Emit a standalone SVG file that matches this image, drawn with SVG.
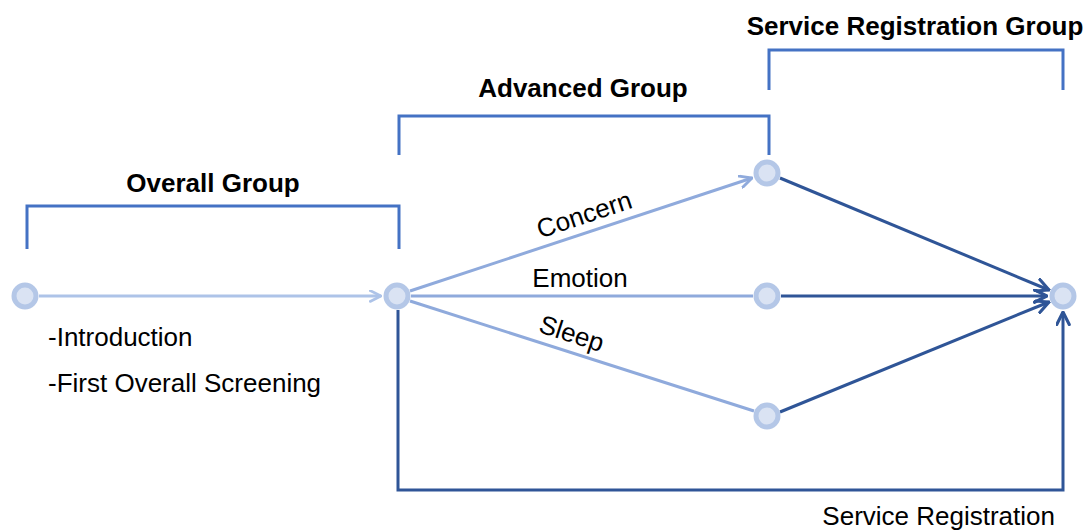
<svg xmlns="http://www.w3.org/2000/svg" width="1087" height="530" viewBox="0 0 1087 530">
<style>
.title{font-family:"Liberation Sans",Arial,sans-serif;font-weight:bold;font-size:26px;fill:#000}
.lbl{font-family:"Liberation Sans",Arial,sans-serif;font-size:26px;fill:#000}
.br{fill:none;stroke:#4472c4;stroke-width:3}
.ring{fill:#dae3f3;stroke:#b4c7e7;stroke-width:5}
.light{fill:none;stroke:#8faadc;stroke-width:3}
.lighter{fill:none;stroke:#adc3e8;stroke-width:3}
.dark{fill:none;stroke:#2f5597;stroke-width:3}
</style>
<defs>
<marker id="aL" viewBox="0 0 12 12" refX="11" refY="6" markerWidth="14" markerHeight="14" markerUnits="userSpaceOnUse" orient="auto"><path d="M1,1 L11,6 L1,11" fill="none" stroke="#8faadc" stroke-width="2.5" stroke-linecap="round"/></marker>
<marker id="aLL" viewBox="0 0 12 12" refX="11" refY="6" markerWidth="13" markerHeight="13" markerUnits="userSpaceOnUse" orient="auto"><path d="M1,1 L11,6 L1,11" fill="none" stroke="#adc3e8" stroke-width="2.5" stroke-linecap="round"/></marker>
<marker id="aD" viewBox="0 0 12 12" refX="11" refY="6" markerWidth="15" markerHeight="15" markerUnits="userSpaceOnUse" orient="auto"><path d="M1,1 L11,6 L1,11" fill="none" stroke="#2f5597" stroke-width="2.5" stroke-linecap="round"/></marker>
</defs>
<g id="brackets">
<path class="br" d="M27,249 V206 H399 V249"/>
<path class="br" d="M399,155 V116 H769 V155"/>
<path class="br" d="M769,90 V50 H1063 V90"/>
</g>
<g id="titles">
<text class="title" x="213" y="192" text-anchor="middle">Overall Group</text>
<text class="title" x="583" y="97" text-anchor="middle">Advanced Group</text>
<text class="title" x="915" y="35" text-anchor="middle">Service Registration Group</text>
</g>
<g id="connectors">
<line class="lighter" x1="39" y1="296" x2="381" y2="296" marker-end="url(#aLL)"/>
<line class="light" x1="410" y1="291" x2="752" y2="178" marker-end="url(#aL)"/>
<line class="light" x1="411" y1="296" x2="753" y2="296"/>
<line class="light" x1="410" y1="301" x2="754" y2="411"/>
<line class="dark" x1="780" y1="178" x2="1049" y2="290" marker-end="url(#aD)"/>
<line class="dark" x1="781" y1="296" x2="1047" y2="296" marker-end="url(#aD)"/>
<line class="dark" x1="780" y1="412" x2="1049" y2="302" marker-end="url(#aD)"/>
<path class="dark" d="M398,310 V490 H1063 V312" marker-end="url(#aD)"/>
</g>
<g id="n1"><circle class="ring" cx="25" cy="296" r="11"/></g>
<g id="n2"><circle class="ring" cx="397" cy="296" r="11"/></g>
<g id="n3"><circle class="ring" cx="767" cy="173" r="11"/></g>
<g id="n4"><circle class="ring" cx="767" cy="296" r="11"/></g>
<g id="n5"><circle class="ring" cx="767" cy="416" r="11"/></g>
<g id="n6"><circle class="ring" cx="1063" cy="296" r="11"/></g>
<g id="labels">
<text class="lbl" transform="translate(587,223) rotate(-18.4)" text-anchor="middle">Concern</text>
<text class="lbl" x="580" y="287" text-anchor="middle">Emotion</text>
<text class="lbl" transform="translate(569,342) rotate(18)" text-anchor="middle">Sleep</text>
<text class="lbl" x="48" y="346">-Introduction</text>
<text class="lbl" x="48" y="392">-First Overall Screening</text>
<text class="lbl" x="1055" y="525" text-anchor="end">Service Registration</text>
</g>
</svg>
